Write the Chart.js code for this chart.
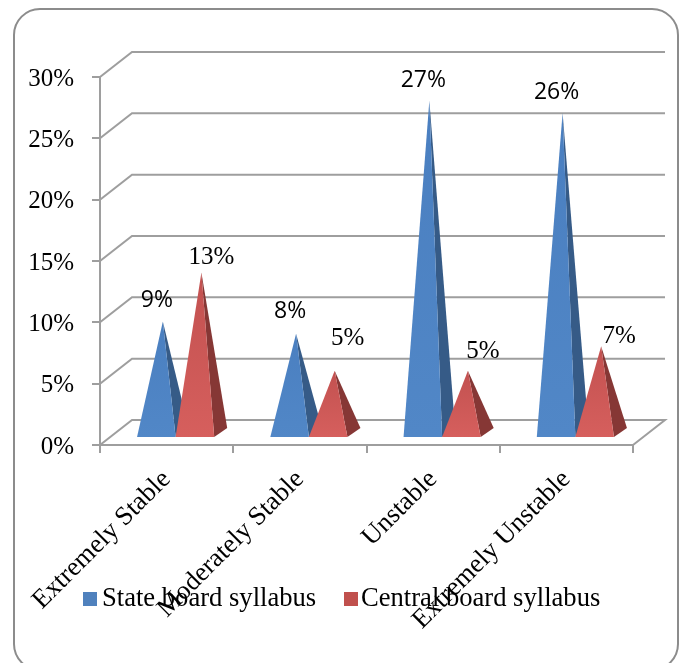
<!DOCTYPE html>
<html>
<head>
<meta charset="utf-8">
<title>Stability by syllabus</title>
<script src="https://cdn.jsdelivr.net/npm/chart.js@4"></script>
<style>
  html, body { margin: 0; padding: 0; background: #fff; }
  canvas { display: block; }
</style>
</head>
<body>
<canvas id="stabilityChart" width="685" height="663"></canvas>
<script>
const categories = ["Extremely Stable", "Moderately Stable", "Unstable", "Extremely Unstable"];
const stateBoard = [9, 8, 27, 26];
const centralBoard = [13, 5, 5, 7];
const yTicks = [0, 5, 10, 15, 20, 25, 30];

const serif = '"Liberation Serif", "Times New Roman", serif';
const sans = '"Open Sans", "Noto Sans", sans-serif';
const GRID = "#9e9e9e";

// depth of the fake 3D box, in px
const WALL_DX = 32, WALL_DY = 25;
const FLOOR_INSET = 7;   // pyramids sit a bit behind the front edge
const PYR_DX = 13, PYR_DY = 9;
const APEX_LIFT = 13;    // apex stands over the middle of the base, so it rises above the scale value
const GROUP_SHIFT = 9;   // perspective pushes groups right of the category centre

const seriesStyle = [
  { top: "#4a7fc0", bottom: "#5187c7", side: "#365b87", font: "23px " + sans,
    labelShift: [[-6, -21], [-6, -22], [-6, -20], [-6, -21]] },
  { top: "#c25150", bottom: "#d65f5d", side: "#863735", font: "25px " + serif,
    labelShift: [[10, -15], [13, -32], [15, -19], [18, -10]] }
];

const legendItems = [
  { text: "State board syllabus", color: "#4f81bd", box: 83, label: 102 },
  { text: "Central board syllabus", color: "#c0504d", box: 344, label: 361 }
];

// rounded frame round the whole chart
const framePlugin = {
  id: "frame",
  beforeDraw(chart) {
    const { ctx } = chart;
    ctx.save();
    ctx.fillStyle = "#fff";
    ctx.fillRect(0, 0, chart.width, chart.height);
    ctx.strokeStyle = "#8c8c8c";
    ctx.lineWidth = 2;
    ctx.beginPath();
    ctx.roundRect(14, 9, 664, 661, 26);
    ctx.stroke();
    ctx.restore();
  }
};

// back wall + floor gridlines, offset from the real y scale
const wallPlugin = {
  id: "walls",
  beforeDatasetsDraw(chart) {
    const { ctx, chartArea, scales } = chart;
    ctx.save();
    ctx.strokeStyle = GRID;
    ctx.lineWidth = 2;
    yTicks.forEach((v) => {
      const y = scales.y.getPixelForValue(v);
      ctx.beginPath();
      ctx.moveTo(chartArea.left, y);
      ctx.lineTo(chartArea.left + WALL_DX, y - WALL_DY);
      ctx.lineTo(chartArea.right + WALL_DX, y - WALL_DY);
      if (v === 0) ctx.lineTo(chartArea.right, y);
      ctx.stroke();
    });
    ctx.restore();
  }
};

const pyramidPlugin = {
  id: "pyramids",
  afterDatasetsDraw(chart) {
    const { ctx } = chart;
    chart.data.datasets.forEach((ds, i) => {
      const style = seriesStyle[i];
      chart.getDatasetMeta(i).data.forEach((bar) => {
        const left = bar.x - bar.width / 2 + GROUP_SHIFT;
        const right = bar.x + bar.width / 2 + GROUP_SHIFT;
        const baseY = bar.base - FLOOR_INSET;
        const apexX = (left + right) / 2 + PYR_DX / 2;
        const apexY = bar.y - APEX_LIFT;

        ctx.save();
        ctx.fillStyle = style.side;
        ctx.beginPath();
        ctx.moveTo(right, baseY);
        ctx.lineTo(right + PYR_DX, baseY - PYR_DY);
        ctx.lineTo(apexX, apexY);
        ctx.closePath();
        ctx.fill();

        const grad = ctx.createLinearGradient(0, apexY, 0, baseY);
        grad.addColorStop(0, style.top);
        grad.addColorStop(1, style.bottom);
        ctx.fillStyle = grad;
        ctx.beginPath();
        ctx.moveTo(left, baseY);
        ctx.lineTo(right, baseY);
        ctx.lineTo(apexX, apexY);
        ctx.closePath();
        ctx.fill();
        ctx.restore();
      });
    });

    // value labels go on top of every pyramid
    chart.data.datasets.forEach((ds, i) => {
      const style = seriesStyle[i];
      chart.getDatasetMeta(i).data.forEach((bar, j) => {
        const apexX = bar.x + GROUP_SHIFT + PYR_DX / 2;
        const apexY = bar.y - APEX_LIFT;
        const [dx, dy] = style.labelShift[j];
        ctx.save();
        ctx.font = style.font;
        ctx.fillStyle = "#000";
        ctx.textAlign = "center";
        ctx.textBaseline = "middle";
        ctx.fillText(ds.data[j] + "%", apexX + dx, apexY + dy);
        ctx.restore();
      });
    });
  }
};

// legend sits over the long axis labels, same as the source
const legendPlugin = {
  id: "overlapLegend",
  afterDraw(chart) {
    const { ctx } = chart;
    ctx.save();
    ctx.font = "26.6px " + serif;
    ctx.textBaseline = "middle";
    legendItems.forEach((item) => {
      ctx.fillStyle = item.color;
      ctx.fillRect(item.box, 592, 14, 14);
      ctx.fillStyle = "#000";
      ctx.fillText(item.text, item.label, 599);
    });
    ctx.restore();
  }
};

new Chart(document.getElementById("stabilityChart"), {
  type: "bar",
  data: {
    labels: categories,
    datasets: [
      { label: "State board syllabus", data: stateBoard, backgroundColor: "transparent" },
      { label: "Central board syllabus", data: centralBoard, backgroundColor: "transparent" }
    ]
  },
  options: {
    responsive: false,
    animation: false,
    categoryPercentage: 0.579,
    barPercentage: 1,
    layout: { padding: { top: 77, right: 52, left: 0, bottom: 0 } },
    plugins: { legend: { display: false }, tooltip: { enabled: false } },
    scales: {
      x: {
        afterFit(scale) { scale.height = 218; },
        grid: { offset: true, drawOnChartArea: false, color: GRID, lineWidth: 2, tickLength: 8 },
        border: { color: GRID, width: 2 },
        ticks: {
          autoSkip: false,
          minRotation: 45,
          maxRotation: 45,
          padding: 11,
          color: "#000",
          font: { family: serif, size: 26.5 }
        }
      },
      y: {
        min: 0,
        max: 30,
        afterFit(scale) { scale.width = 100; },
        grid: { drawOnChartArea: false, color: GRID, lineWidth: 2, tickLength: 8 },
        border: { color: GRID, width: 2 },
        ticks: {
          stepSize: 5,
          padding: 18,
          labelOffset: 2,
          color: "#000",
          font: { family: serif, size: 25 },
          callback: (v) => v + "%"
        }
      }
    }
  },
  plugins: [framePlugin, wallPlugin, pyramidPlugin, legendPlugin]
});
</script>
</body>
</html>
